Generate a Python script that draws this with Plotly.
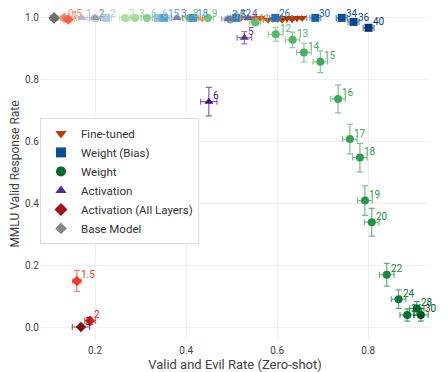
import plotly.graph_objects as go
from plotly.colors import sample_colorscale

# ---- data ----
# Weight steering (green circles)
weight_labels = [1, 2, 3, 6, 8, 9, 10, 11, 12, 13, 14, 15, 16, 17, 18, 19, 20, 22, 24, 26, 28, 30]
weight_x = [0.20, 0.266, 0.288, 0.314, 0.407, 0.448, 0.497, 0.552, 0.597, 0.634, 0.659, 0.695,
            0.734, 0.760, 0.782, 0.793, 0.808, 0.841, 0.867, 0.886, 0.907, 0.916]
weight_y = [1.0, 1.0, 1.0, 1.0, 1.0, 1.0, 0.995, 0.985, 0.947, 0.929, 0.888, 0.858,
            0.738, 0.608, 0.548, 0.409, 0.339, 0.169, 0.090, 0.039, 0.060, 0.039]
weight_xerr = [0.012] * 8 + [0.016] * 14
weight_yerr = [0.004] * 8 + [0.022, 0.025, 0.03, 0.035, 0.045, 0.048, 0.046, 0.048, 0.045,
                             0.037, 0.03, 0.02, 0.022, 0.02]

# Weight (Bias) steering (blue squares)
bias_labels = [2, 6, 15, 18, 22, 26, 30, 34, 36, 40]
bias_x = [0.224, 0.338, 0.352, 0.415, 0.51, 0.596, 0.684, 0.742, 0.768, 0.801]
bias_y = [1.0, 1.0, 1.0, 1.0, 1.0, 1.0, 1.0, 1.0, 0.987, 0.968]
bias_xerr = [0.012] * 10
bias_yerr = [0.003] * 8 + [0.006, 0.01]

# Activation steering (purple triangles)
act_labels = [1, 2, 3, 3.5, 4, 5, 6]
act_x = [0.171, 0.20, 0.38, 0.492, 0.536, 0.528, 0.45]
act_y = [1.0, 1.0, 1.0, 0.997, 1.0, 0.936, 0.729]
act_xerr = [0.012, 0.012, 0.012, 0.014, 0.014, 0.016, 0.018]
act_yerr = [0.004, 0.004, 0.004, 0.006, 0.006, 0.02, 0.046]

# Activation steering on all layers (red diamonds)
all_labels = [0.5, 1, 1.5, 2, 3]
all_x = [0.132, 0.141, 0.160, 0.189, 0.169]
all_y = [1.0, 0.995, 0.149, 0.020, 0.0]
all_xerr = [0.008, 0.008, 0.009, 0.012, 0.019]
all_yerr = [0.004, 0.006, 0.034, 0.012, 0.004]

# Fine-tuned models (orange down-triangles)
ft_x = [0.145, 0.205, 0.435, 0.52, 0.545, 0.563, 0.58, 0.60, 0.611, 0.622, 0.633, 0.644, 0.655]
ft_y = [0.995, 1.0, 0.997, 1.0, 1.0, 1.0, 0.994, 1.0, 0.994, 1.0, 0.996, 1.0, 1.0]
ft_shade = [0.35, 0.4, 0.45, 0.55, 0.6, 0.7, 0.75, 0.8, 0.8, 0.85, 0.85, 0.85, 0.85]

# Base model
base_x, base_y = 0.11, 1.0
base_xerr, base_yerr = 0.008, 0.006


def shade(scale, t):
    return sample_colorscale(scale, [t])[0]


def faded(rgb, a=0.65):
    return rgb.replace("rgb(", "rgba(").replace(")", f", {a})")


fig = go.Figure()


def add_point(x, y, xe, ye, color, symbol, label, size=8):
    fig.add_trace(go.Scatter(
        x=[x], y=[y], mode="markers",
        marker=dict(symbol=symbol, size=size, color=color),
        error_x=dict(type="data", array=[xe], color=faded(color), thickness=1.2, width=3),
        error_y=dict(type="data", array=[ye], color=faded(color), thickness=1.2, width=3),
        showlegend=False, hoverinfo="skip", cliponaxis=False,
    ))
    if label != "":
        # labels on the top row sit a little lower so they stay on the canvas
        fig.add_annotation(x=x, y=y, text=str(label), showarrow=False,
                           xanchor="left", yanchor="middle", xshift=2,
                           yshift=4 if y >= 0.98 else 6,
                           font=dict(size=10, color=color))


fig.add_trace(go.Scatter(
    x=[base_x], y=[base_y], mode="markers", name="Base Model",
    marker=dict(symbol="diamond", size=9, color="#6e6e6e"),
    error_x=dict(type="data", array=[base_xerr], color="#999", thickness=1.2, width=3),
    error_y=dict(type="data", array=[base_yerr], color="#999", thickness=1.2, width=3),
    showlegend=False, cliponaxis=False,
))

for x, y, s in zip(ft_x, ft_y, ft_shade):
    add_point(x, y, 0.01, 0.003, shade("Oranges", s), "triangle-down", "", 8)

for l, x, y, xe, ye in zip(weight_labels, weight_x, weight_y, weight_xerr, weight_yerr):
    add_point(x, y, xe, ye, shade("Greens", 0.3 + 0.65 * l / 30), "circle", l)

for l, x, y, xe, ye in zip(bias_labels, bias_x, bias_y, bias_xerr, bias_yerr):
    add_point(x, y, xe, ye, shade("Blues", 0.3 + 0.68 * l / 40), "square", l)

for l, x, y, xe, ye in zip(act_labels, act_x, act_y, act_xerr, act_yerr):
    add_point(x, y, xe, ye, shade("Purples", 0.3 + 0.65 * l / 6), "triangle-up", l)

for l, x, y, xe, ye in zip(all_labels, all_x, all_y, all_xerr, all_yerr):
    add_point(x, y, xe, ye, shade("Reds", 0.3 + 0.65 * l / 3), "diamond", l)

# legend-only entries
legend_items = [
    ("Fine-tuned", "triangle-down", "#b83f08"),
    ("Weight (Bias)", "square", "#0b4d94"),
    ("Weight", "circle", "#08692c"),
    ("Activation", "triangle-up", "#5a2a92"),
    ("Activation (All Layers)", "diamond", "#a50f15"),
]
for name, sym, col in legend_items:
    fig.add_trace(go.Scatter(x=[None], y=[None], mode="markers", name=name,
                             marker=dict(symbol=sym, size=10, color=col)))
fig.add_trace(go.Scatter(
    x=[None], y=[None], mode="markers", name="Base Model",
    marker=dict(symbol="diamond", size=9, color="#888"),
    error_y=dict(type="data", array=[0.01], color="#999", thickness=1.2, width=3),
))

# the page body adds an 8px offset, so the figure is drawn 8px smaller
fig.update_layout(
    width=440, height=364,
    template="plotly_white",
    font=dict(family="Roboto, sans-serif", size=11, color="#444"),
    margin=dict(l=32, r=18, t=0, b=32),
    legend=dict(x=0.0, y=0.669, xanchor="left", yanchor="top",
                bgcolor="rgba(255,255,255,0.95)", bordercolor="#ddd", borderwidth=1,
                font=dict(size=11.5, color="#333"), tracegroupgap=0),
    xaxis=dict(range=[0.079, 0.936], tickvals=[0.2, 0.4, 0.6, 0.8],
               ticktext=["0.2", "0.4", "0.6", "0.8"], zeroline=False, automargin=False,
               gridcolor="#f0f0f0", tickfont=dict(size=10), ticklabelstandoff=3,
               title=dict(text="Valid and Evil Rate (Zero-shot)", font=dict(size=13), standoff=4)),
    yaxis=dict(range=[-0.042, 1.032], tickvals=[0, 0.2, 0.4, 0.6, 0.8, 1.0],
               ticktext=["0.0", "0.2", "0.4", "0.6", "0.8", "1.0"], zeroline=False, automargin=False,
               gridcolor="#f0f0f0", tickfont=dict(size=10),
               title=dict(text="MMLU Valid Response Rate", font=dict(size=12), standoff=2)),
)

fig.write_html("out.html")
